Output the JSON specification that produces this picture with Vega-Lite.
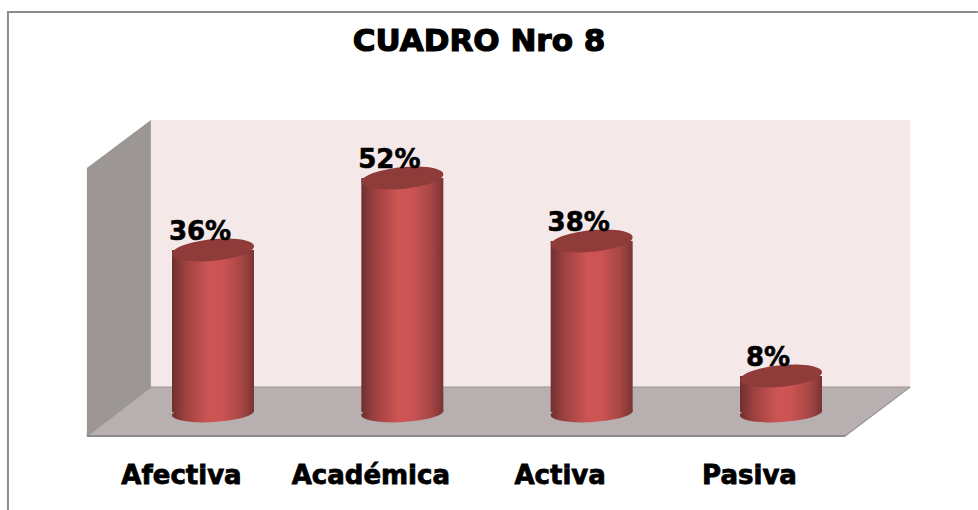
{
  "$schema": "https://vega.github.io/schema/vega-lite/v6.json",
  "width": 978,
  "height": 510,
  "padding": 0,
  "autosize": {"type": "none"},
  "background": "#ffffff",
  "view": {"stroke": null},
  "title": {"text": "CUADRO Nro 8", "font": "DejaVu Sans", "fontSize": 31, "fontWeight": "bold", "color": "#000000", "anchor": "middle", "offset": -82, "baseline": "alphabetic", "dx": -10},
  "config": {
    "style": {
      "group-title": {"stroke": "#000000", "strokeWidth": 1.2},
      "guide-label": {"stroke": "#000000", "strokeWidth": 0.8}
    }
  },
  "datasets": {
    "cuadro": [
      {"categoria": "Afectiva", "valor": 36, "etiqueta": "36%"},
      {"categoria": "Académica", "valor": 52, "etiqueta": "52%"},
      {"categoria": "Activa", "valor": 38, "etiqueta": "38%"},
      {"categoria": "Pasiva", "valor": 8, "etiqueta": "8%"}
    ]
  },
  "resolve": {"scale": {"x": "independent"}, "axis": {"x": "independent"}},
  "layer": [
    {
      "layer": [
        {
          "data": {"values": [{"p": -0.083, "v": 88.9, "o": 1}, {"p": -0.083, "v": -21.78, "o": 0}, {"p": 5.04, "v": 88.9, "o": 2}]},
          "mark": {"type": "line", "color": "#8c8c8c", "strokeWidth": 2},
          "encoding": {
            "x": {"field": "p", "type": "quantitative", "axis": null, "scale": {"domain": [1, 4], "range": [213, 781], "zero": false, "nice": false}},
            "y": {"field": "v", "type": "quantitative", "axis": null, "scale": {"domain": [-21.78, 91.56], "zero": false, "nice": false}},
            "order": {"field": "o"}
          }
        },
        {
          "data": {"values": [{"a": 0.672, "b": 4.682, "top": 64.9, "bot": 5.56}]},
          "mark": {"type": "rect", "fill": "#f5e8e8"},
          "encoding": {
            "x": {"field": "a", "type": "quantitative", "axis": null},
            "x2": {"field": "b"},
            "y": {"field": "top", "type": "quantitative", "axis": null},
            "y2": {"field": "bot"}
          }
        },
        {
          "data": {"values": [{"p": 0.334, "top": 54.2, "bot": -5.33}, {"p": 0.672, "top": 64.9, "bot": 5.56}]},
          "mark": {"type": "area", "fill": "#9c9695"},
          "encoding": {
            "x": {"field": "p", "type": "quantitative", "axis": null},
            "y": {"field": "top", "type": "quantitative", "axis": null},
            "y2": {"field": "bot"}
          }
        },
        {
          "data": {"values": [{"v": 5.56, "a": 0.672, "b": 4.682}, {"v": -5.33, "a": 0.334, "b": 4.339}]},
          "mark": {"type": "area", "orient": "horizontal", "fill": "#b8b0b0"},
          "encoding": {
            "y": {"field": "v", "type": "quantitative", "axis": null},
            "x": {"field": "a", "type": "quantitative", "axis": null},
            "x2": {"field": "b"}
          }
        },
        {
          "data": {"values": [
            {"e": "fondo", "p": 0.672, "v": 5.56, "o": 0}, {"e": "fondo", "p": 4.682, "v": 5.56, "o": 1},
            {"e": "der", "p": 4.682, "v": 5.56, "o": 0}, {"e": "der", "p": 4.339, "v": -5.33, "o": 1},
            {"e": "izq", "p": 0.672, "v": 5.56, "o": 0}, {"e": "izq", "p": 0.334, "v": -5.33, "o": 1}
          ]},
          "mark": {"type": "line", "color": "#999595", "strokeWidth": 1.2},
          "encoding": {
            "x": {"field": "p", "type": "quantitative", "axis": null},
            "y": {"field": "v", "type": "quantitative", "axis": null},
            "detail": {"field": "e"},
            "order": {"field": "o"}
          }
        },
        {
          "data": {"values": [{"p": 0.334, "v": -5.33}, {"p": 4.339, "v": -5.33}]},
          "mark": {"type": "line", "color": "#8a8a8a", "strokeWidth": 2},
          "encoding": {
            "x": {"field": "p", "type": "quantitative", "axis": null},
            "y": {"field": "v", "type": "quantitative", "axis": null}
          }
        }
      ]
    },
    {
      "data": {"name": "cuadro"},
      "encoding": {
        "x": {
          "field": "categoria",
          "type": "nominal",
          "scale": {"type": "point", "domain": ["Afectiva", "Académica", "Activa", "Pasiva"], "range": [213, 781], "padding": 0},
          "axis": {"title": null, "domain": false, "ticks": false, "grid": false, "labelAngle": 0, "labelFont": "DejaVu Sans", "labelFontSize": 26, "labelFontWeight": "bold", "labelColor": "#000000", "labelBaseline": "alphabetic", "labelPadding": -27, "labelOffset": -32, "labelOverlap": false, "labelBound": false, "labelFlush": false, "labelLimit": 300}
        }
      },
      "layer": [
        {
          "mark": {"type": "point", "filled": true, "opacity": 1, "size": 6724, "shape": "M-1,0.06 A1.002,0.22 -3.4 1 1 1,-0.06 A1.002,0.22 -3.4 1 1 -1,0.06 Z",
            "color": {"gradient": "linear", "x1": 0, "x2": 1, "y1": 0, "y2": 0, "stops": [{"offset": 0, "color": "#6e2f2e"}, {"offset": 0.15, "color": "#9a403f"}, {"offset": 0.45, "color": "#cd5554"}, {"offset": 0.62, "color": "#cb5453"}, {"offset": 0.85, "color": "#a64645"}, {"offset": 1, "color": "#7a3332"}]}},
          "encoding": {"y": {"datum": -0.2, "type": "quantitative", "axis": null}}
        },
        {
          "mark": {"type": "bar", "size": 82,
            "color": {"gradient": "linear", "x1": 0, "x2": 1, "y1": 0, "y2": 0, "stops": [{"offset": 0, "color": "#6e2f2e"}, {"offset": 0.15, "color": "#9a403f"}, {"offset": 0.45, "color": "#cd5554"}, {"offset": 0.62, "color": "#cb5453"}, {"offset": 0.85, "color": "#a64645"}, {"offset": 1, "color": "#7a3332"}]}},
          "encoding": {
            "y": {"field": "valor", "type": "quantitative", "axis": null},
            "y2": {"datum": 0}
          }
        },
        {
          "mark": {"type": "point", "filled": true, "opacity": 1, "size": 6724, "color": "#8f3b39", "shape": "M-1,0.1 A1.005,0.26 -5.7 1 1 1,-0.1 A1.005,0.26 -5.7 1 1 -1,0.1 Z"},
          "encoding": {"y": {"field": "valor", "type": "quantitative", "axis": null}}
        },
        {
          "mark": {"type": "text", "font": "DejaVu Sans", "fontWeight": "bold", "fontSize": 26, "color": "#000000", "stroke": "#000000", "strokeWidth": 0.6, "baseline": "alphabetic", "dx": -13, "dy": -10},
          "encoding": {
            "y": {"field": "valor", "type": "quantitative", "axis": null},
            "text": {"field": "etiqueta"}
          }
        }
      ]
    }
  ]
}
